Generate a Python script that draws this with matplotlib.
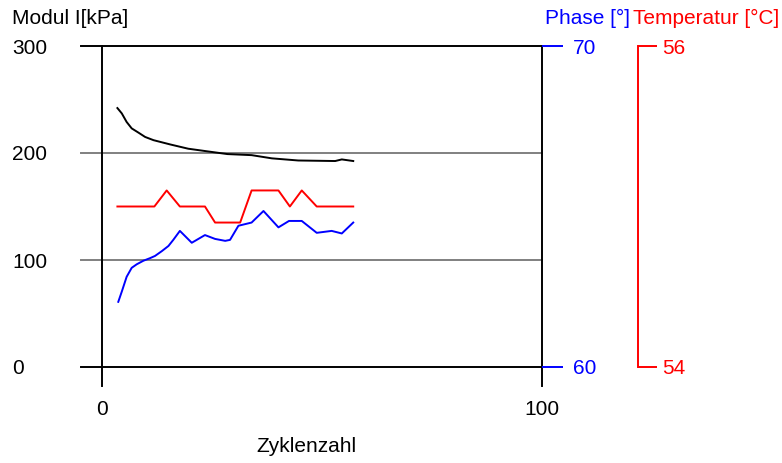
import matplotlib
matplotlib.use("Agg")
import matplotlib.pyplot as plt

# ---- data ----
modul_x = [3.5, 4.5, 5.6, 6.75, 8.3, 9.8, 11.7, 15.5, 19.6, 24.9, 28.5, 34.0, 38.6, 44.6, 53.0, 54.5, 57.1]
modul_y = [242, 237, 229, 223, 219, 215, 212, 208, 204, 201, 199, 198, 195, 193, 192.5, 194, 192.5]

phase_x = [3.7, 4.5, 5.6, 6.75, 7.9, 9.4, 10.9, 12.05, 13.6, 15.1, 16.2, 17.7, 20.4, 23.4, 25.7,
           28.0, 29.1, 31.0, 34.0, 36.7, 40.1, 42.5, 45.4, 48.8, 52.2, 54.5, 57.1]
phase_y = [62.03, 62.35, 62.81, 63.09, 63.2, 63.31, 63.39, 63.46, 63.61, 63.77, 63.96, 64.24, 63.87, 64.11, 63.99,
           63.93, 63.96, 64.4, 64.5, 64.86, 64.35, 64.55, 64.55, 64.18, 64.24, 64.16, 64.5]

temp_x = [3.5, 11.9, 14.7, 17.7, 23.4, 25.7, 31.4, 34.0, 40.1, 42.7, 45.4, 48.8, 57.1]
temp_y = [55.0, 55.0, 55.1, 55.0, 55.0, 54.9, 54.9, 55.1, 55.1, 55.0, 55.1, 55.0, 55.0]

x_ticks = [0, 100]
modul_ticks = [0, 100, 200, 300]
phase_ticks = [60, 70]
temp_ticks = [54, 56]

# ---- styling ----
FONT = ['Liberation Sans', 'DejaVu Sans']
FS = 15
plt.rcParams['font.family'] = FONT

W, H = 782, 463
fig = plt.figure(figsize=(W / 100, H / 100), dpi=100)

def fx(px):
    return px / W

def fy(py):
    return 1 - py / H

X0, X1, YT, YB = 102, 542, 46, 367
rect = [fx(X0), fy(YB), fx(X1) - fx(X0), fy(YT) - fy(YB)]
axw = X1 - X0
axh = YB - YT

ax = fig.add_axes(rect)
ax.set_xlim(0, 100)
ax.set_ylim(0, 300)
for s in ax.spines.values():
    s.set_visible(False)

# horizontal lines (grid + frame)
left_ext = (81 - X0) / axw
for v in modul_ticks:
    col = 'black' if v in (0, 300) else '#808080'
    ax.axhline(v, xmin=left_ext, xmax=1, color=col, lw=1.4, clip_on=False, zorder=1)
# vertical lines
down_ext = (YB - 386) / axh
for v in x_ticks:
    ax.axvline(v, ymin=down_ext, ymax=1, color='black', lw=1.4, clip_on=False, zorder=1)

ax.set_xticks(x_ticks)
ax.set_xticklabels([str(v) for v in x_ticks], fontsize=FS)
ax.tick_params(axis='x', length=0, pad=24)
ax.set_yticks(modul_ticks)
ax.set_yticklabels([str(v) for v in modul_ticks], fontsize=FS, ha='left')
ax.tick_params(axis='y', length=0, pad=(X0 - 12) * 0.72)

ax.plot(modul_x, modul_y, color='black', lw=1.4, zorder=3)

# phase axis
ax2 = fig.add_axes(rect, sharex=ax)
ax2.patch.set_visible(False)
ax2.set_ylim(60, 70)
for k, s in ax2.spines.items():
    s.set_visible(False)
ax2.xaxis.set_visible(False)
ax2.yaxis.tick_right()
ax2.set_yticks(phase_ticks)
ax2.set_yticklabels([str(v) for v in phase_ticks], fontsize=FS, color='#0000ff')
ax2.tick_params(axis='y', direction='out', length=21 * 0.72, width=1.4, color='#0000ff', pad=7)
for lab in ax2.get_yticklabels():
    lab.set_verticalalignment('center_baseline')
ax2.plot(phase_x, phase_y, color='#0000ff', lw=1.4, zorder=3)

# temperature axis
ax3 = fig.add_axes(rect, sharex=ax)
ax3.patch.set_visible(False)
ax3.set_ylim(54, 56)
for k, s in ax3.spines.items():
    s.set_visible(k == 'right')
ax3.spines['right'].set_position(('axes', (638 - X0) / axw))
ax3.spines['right'].set_color('#ff0000')
ax3.spines['right'].set_linewidth(1.4)
ax3.xaxis.set_visible(False)
ax3.yaxis.tick_right()
ax3.set_yticks(temp_ticks)
ax3.set_yticklabels([str(v) for v in temp_ticks], fontsize=FS, color='#ff0000')
ax3.tick_params(axis='y', direction='out', length=19 * 0.72, width=1.4, color='#ff0000', pad=4)
for lab in ax3.get_yticklabels():
    lab.set_verticalalignment('center_baseline')
ax3.plot(temp_x, temp_y, color='#ff0000', lw=1.4, zorder=3)

# titles
fig.text(fx(12), fy(18), 'Modul I[kPa]', fontsize=FS, ha='left', va='center')
fig.text(fx(630), fy(18), 'Phase [°]', fontsize=FS, ha='right', va='center', color='#0000ff')
fig.text(fx(779), fy(18), 'Temperatur [°C]', fontsize=FS, ha='right', va='center', color='#ff0000')
fig.text(fx(306), fy(447), 'Zyklenzahl', fontsize=FS, ha='center', va='center')

fig.savefig('out.png', dpi=100)
